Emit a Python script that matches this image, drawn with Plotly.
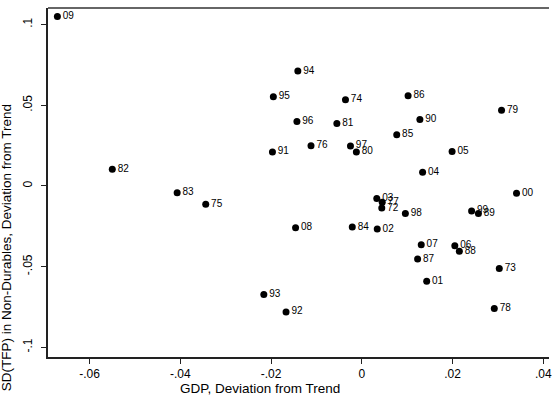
import plotly.graph_objects as go

# Year labels (two-digit) and cyclical deviations
years = ["09", "82", "83", "75", "94", "95", "74", "96", "81", "91", "76", "97", "80",
         "08", "84", "02", "03", "77", "72", "93", "92", "86", "79", "90", "85", "05",
         "04", "00", "98", "99", "89", "07", "06", "88", "87", "73", "01", "78"]
gdp_dev = [-0.0671, -0.0550, -0.0407, -0.0344, -0.0141, -0.0195, -0.0036, -0.0143, -0.0055,
           -0.0197, -0.0112, -0.0025, -0.0012, -0.0146, -0.0021, 0.0034, 0.0033, 0.0045,
           0.0044, -0.0216, -0.0167, 0.0102, 0.0308, 0.0128, 0.0077, 0.0199, 0.0134,
           0.0341, 0.0096, 0.0242, 0.0257, 0.0131, 0.0205, 0.0215, 0.0123, 0.0303,
           0.0143, 0.0292]
tfp_sd_dev = [0.1050, 0.0104, -0.0042, -0.0114, 0.0712, 0.0553, 0.0534, 0.0400, 0.0387,
              0.0211, 0.0250, 0.0248, 0.0211, -0.0259, -0.0255, -0.0267, -0.0077, -0.0101,
              -0.0137, -0.0673, -0.0781, 0.0559, 0.0470, 0.0412, 0.0317, 0.0213, 0.0085,
              -0.0045, -0.0170, -0.0155, -0.0170, -0.0364, -0.0371, -0.0404, -0.0453,
              -0.0511, -0.0590, -0.0760]

x_ticks = [-0.06, -0.04, -0.02, 0, 0.02, 0.04]
x_ticklabels = ["-.06", "-.04", "-.02", "0", ".02", ".04"]
y_ticks = [-0.1, -0.05, 0, 0.05, 0.1]
y_ticklabels = ["-.1", "-.05", "0", ".05", ".1"]

FONT = "Liberation Sans, Arial, Helvetica, sans-serif"

fig = go.Figure(
    go.Scatter(
        x=gdp_dev, y=tfp_sd_dev, mode="markers+text",
        text=years, textposition="middle right",
        textfont=dict(family=FONT, size=10, color="black"),
        marker=dict(size=7, color="black"),
        cliponaxis=False, showlegend=False,
    )
)

fig.update_layout(
    width=552, height=397,
    margin=dict(l=48, r=0, t=8, b=40),
    paper_bgcolor="white", plot_bgcolor="white",
    font=dict(family=FONT, color="black"),
    xaxis=dict(
        range=[-0.06917, 0.04126], tickvals=x_ticks, ticktext=x_ticklabels,
        showgrid=False, zeroline=False, showline=True, linecolor="#222", linewidth=2,
        ticks="outside", ticklen=5, tickcolor="#222", tickwidth=1,
        tickfont=dict(size=12), ticklabeloverflow="allow", ticklabelstandoff=0,
    ),
    yaxis=dict(
        range=[-0.1060, 0.1103], tickvals=y_ticks, ticktext=y_ticklabels,
        showgrid=False, zeroline=False, showline=True, linecolor="#222", linewidth=2,
        ticks="outside", ticklen=5, tickcolor="#222", tickwidth=1,
        tickangle=-90, tickfont=dict(size=12), ticklabelstandoff=4,
    ),
    shapes=[dict(type="line", xref="paper", yref="paper", x0=0, x1=1, y0=1, y1=1,
                 line=dict(color="#666", width=2))],
    annotations=[
        dict(text="GDP, Deviation from Trend", xref="paper", yref="paper",
             x=(261 - 48) / 504, y=-(388 - 357) / 349, xanchor="center", yanchor="middle",
             showarrow=False, font=dict(size=13.5)),
        dict(text="SD(TFP) in Non-Durables, Deviation from Trend", xref="paper", yref="paper",
             x=-(48 - 7) / 504, y=(357 - 248) / 349, xanchor="center", yanchor="middle",
             textangle=-90, showarrow=False, font=dict(size=13.5)),
    ],
)

fig.write_html("out.html")
